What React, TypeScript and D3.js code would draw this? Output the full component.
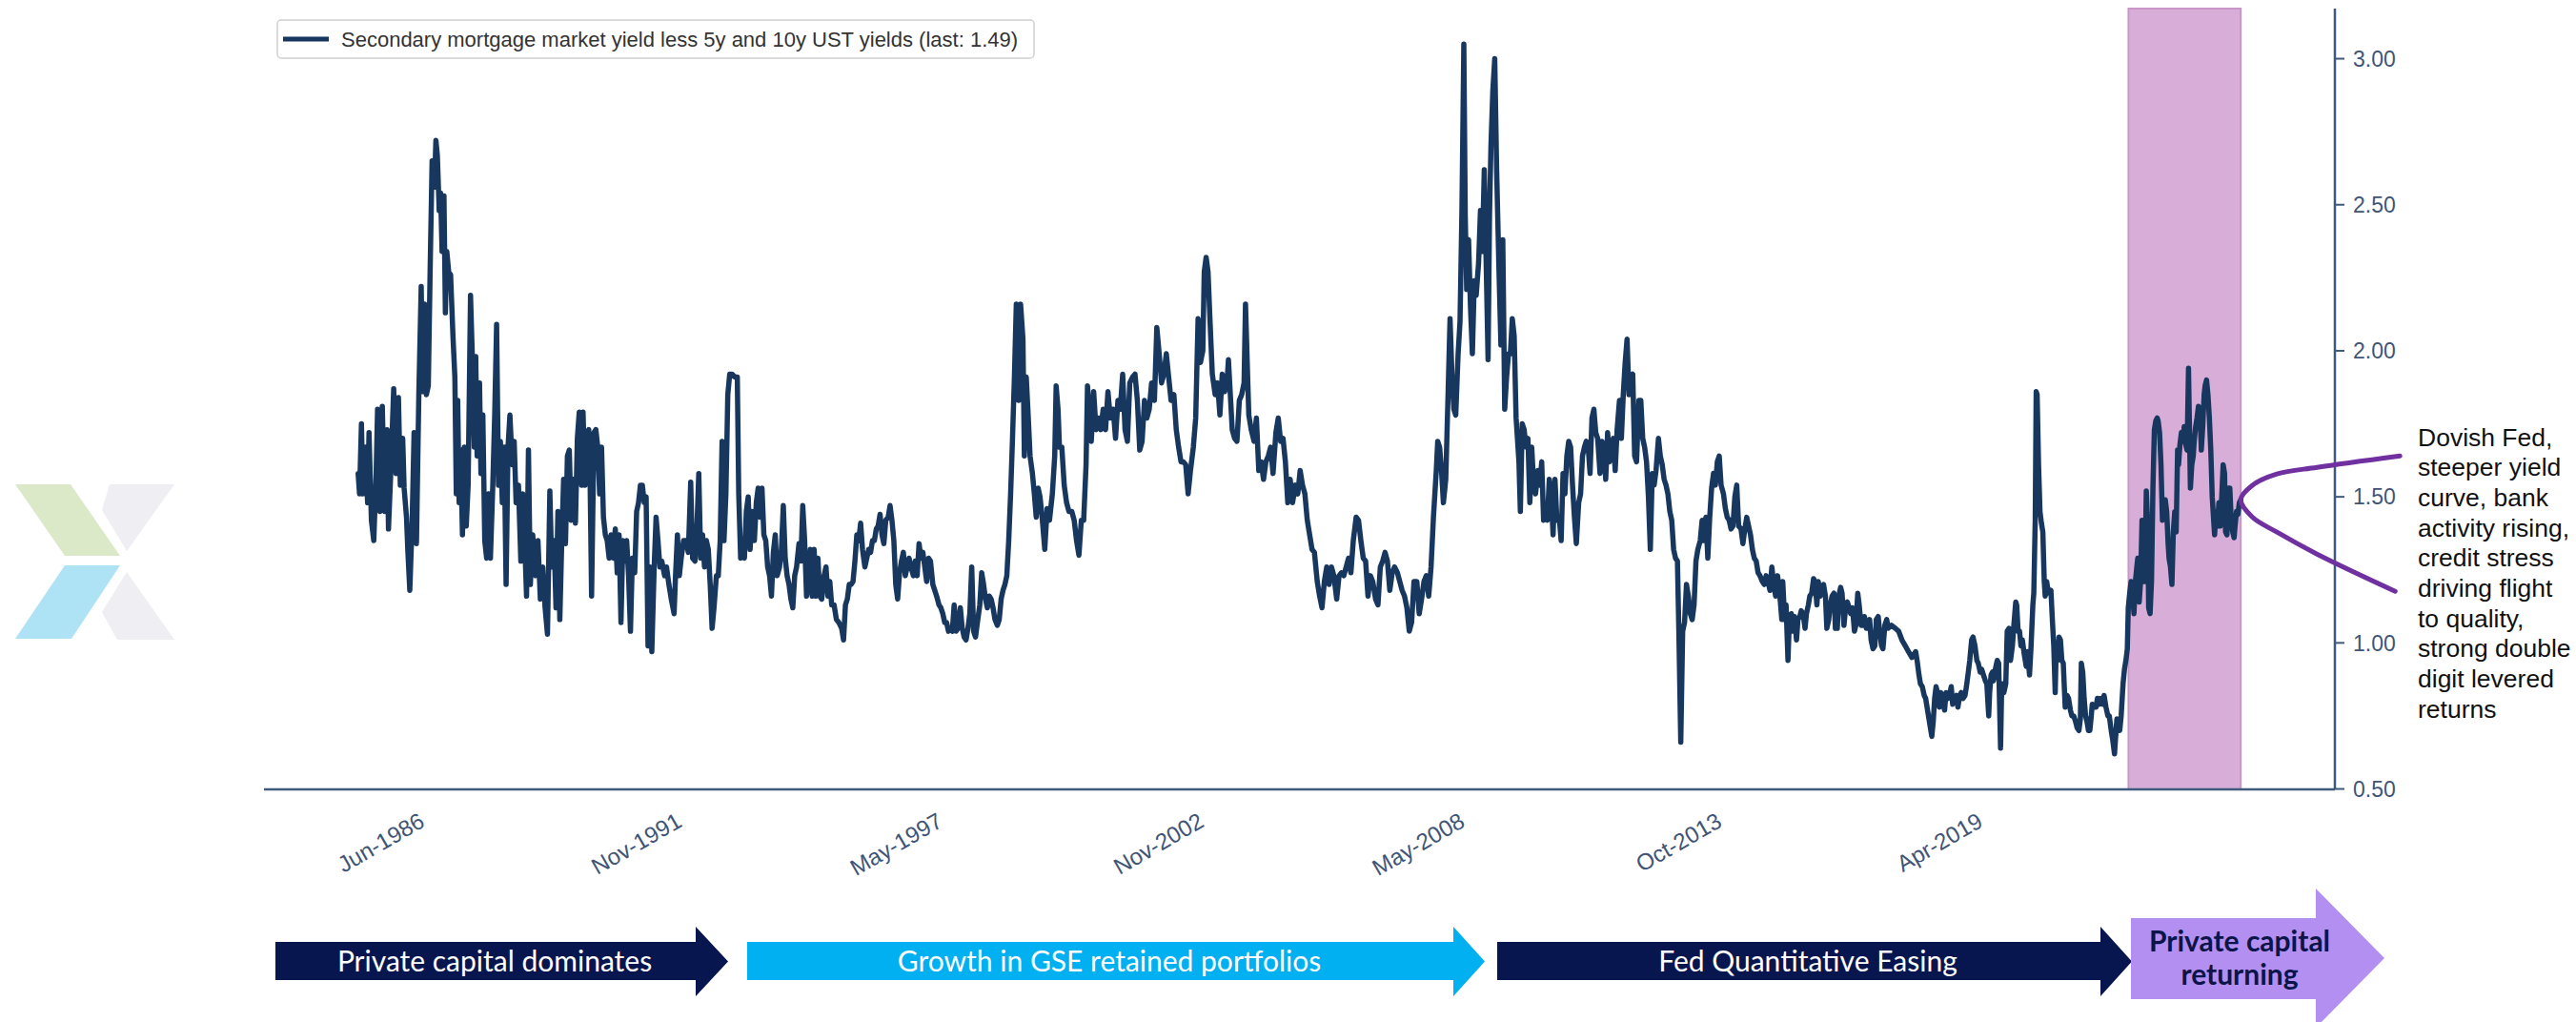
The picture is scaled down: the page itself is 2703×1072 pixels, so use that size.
import React from "react";
import * as d3 from "d3";

// ---------------- DATA (decimal year, spread in %) ----------------
const spread1985_1998: [number, number][] = [
[1984.98,1.58],[1985.01,1.51],[1985.05,1.75],[1985.08,1.51],[1985.13,1.67],[1985.18,1.48],[1985.21,1.72],[1985.26,1.42],[1985.31,1.35],[1985.36,1.58],[1985.39,1.80],[1985.44,1.45],[1985.49,1.81],[1985.54,1.45],[1985.59,1.73],[1985.62,1.39],[1985.67,1.59],[1985.73,1.87],[1985.78,1.58],[1985.83,1.84],[1985.87,1.54],[1985.92,1.70],[1985.95,1.53],[1986.00,1.43],[1986.03,1.31],[1986.07,1.18],[1986.12,1.42],[1986.16,1.72],[1986.21,1.34],[1986.26,1.85],[1986.31,2.22],[1986.34,1.86],[1986.38,2.16],[1986.42,1.85],[1986.46,1.88],[1986.50,2.29],[1986.54,2.65],[1986.59,2.56],[1986.62,2.72],[1986.65,2.67],[1986.69,2.48],[1986.72,2.54],[1986.75,2.34],[1986.79,2.53],[1986.82,2.13],[1986.85,2.34],[1986.89,2.27],[1986.93,2.26],[1986.98,2.05],[1987.02,1.91],[1987.05,1.51],[1987.08,1.83],[1987.11,1.48],[1987.14,1.66],[1987.18,1.37],[1987.22,1.67],[1987.26,1.40],[1987.30,1.54],[1987.35,2.19],[1987.39,1.97],[1987.43,1.67],[1987.46,1.98],[1987.49,1.64],[1987.54,1.89],[1987.57,1.58],[1987.61,1.78],[1987.65,1.35],[1987.69,1.29],[1987.73,1.51],[1987.77,1.29],[1987.82,1.54],[1987.86,1.78],[1987.90,2.09],[1987.94,1.54],[1987.98,1.69],[1988.02,1.48],[1988.06,1.67],[1988.10,1.20],[1988.14,1.67],[1988.18,1.78],[1988.23,1.61],[1988.27,1.69],[1988.31,1.48],[1988.36,1.54],[1988.41,1.28],[1988.45,1.51],[1988.49,1.35],[1988.53,1.16],[1988.57,1.66],[1988.61,1.20],[1988.66,1.37],[1988.72,1.23],[1988.77,1.35],[1988.82,1.15],[1988.87,1.26],[1988.92,1.12],[1988.97,1.03],[1989.02,1.52],[1989.06,1.26],[1989.11,1.35],[1989.15,1.12],[1989.19,1.45],[1989.23,1.08],[1989.27,1.34],[1989.31,1.56],[1989.35,1.34],[1989.39,1.64],[1989.43,1.66],[1989.47,1.42],[1989.52,1.56],[1989.56,1.41],[1989.60,1.70],[1989.64,1.79],[1989.69,1.54],[1989.72,1.79],[1989.76,1.54],[1989.80,1.72],[1989.84,1.73],[1989.87,1.54],[1989.90,1.16],[1989.95,1.72],[1989.99,1.73],[1990.03,1.67],[1990.07,1.51],[1990.11,1.67],[1990.15,1.43],[1990.19,1.37],[1990.23,1.35],[1990.27,1.29],[1990.31,1.37],[1990.36,1.29],[1990.40,1.39],[1990.44,1.24],[1990.48,1.37],[1990.52,1.07],[1990.56,1.35],[1990.60,1.28],[1990.64,1.35],[1990.68,1.23],[1990.72,1.04],[1990.76,1.29],[1990.81,1.24],[1990.85,1.45],[1990.89,1.48],[1990.93,1.54],[1990.97,1.54],[1991.01,1.48],[1991.05,1.50],[1991.09,0.99],[1991.13,1.26],[1991.17,0.97],[1991.22,1.26],[1991.26,1.43],[1991.30,1.35],[1991.34,1.26],[1991.38,1.28],[1991.44,1.23],[1991.48,1.26],[1991.53,1.20],[1991.58,1.15],[1991.64,1.10],[1991.67,1.23],[1991.71,1.37],[1991.75,1.23],[1991.79,1.29],[1991.84,1.35],[1991.89,1.35],[1991.94,1.31],[1991.99,1.55],[1992.03,1.29],[1992.08,1.28],[1992.12,1.39],[1992.16,1.58],[1992.20,1.29],[1992.24,1.37],[1992.28,1.26],[1992.32,1.35],[1992.36,1.32],[1992.40,1.20],[1992.44,1.05],[1992.48,1.12],[1992.53,1.23],[1992.57,1.23],[1992.61,1.35],[1992.65,1.69],[1992.69,1.35],[1992.73,1.51],[1992.77,1.85],[1992.81,1.92],[1992.86,1.92],[1992.92,1.91],[1992.97,1.91],[1993.00,1.51],[1993.04,1.29],[1993.08,1.35],[1993.12,1.29],[1993.16,1.45],[1993.20,1.50],[1993.24,1.32],[1993.28,1.45],[1993.33,1.35],[1993.37,1.48],[1993.41,1.53],[1993.45,1.43],[1993.49,1.53],[1993.53,1.37],[1993.57,1.35],[1993.61,1.26],[1993.65,1.23],[1993.69,1.16],[1993.73,1.31],[1993.77,1.37],[1993.81,1.23],[1993.86,1.26],[1993.90,1.32],[1993.94,1.47],[1993.98,1.29],[1994.02,1.23],[1994.06,1.20],[1994.10,1.15],[1994.14,1.12],[1994.18,1.23],[1994.22,1.26],[1994.27,1.34],[1994.31,1.28],[1994.35,1.47],[1994.39,1.35],[1994.43,1.16],[1994.47,1.20],[1994.51,1.32],[1994.55,1.16],[1994.59,1.32],[1994.63,1.16],[1994.67,1.29],[1994.71,1.16],[1994.75,1.15],[1994.80,1.23],[1994.84,1.26],[1994.88,1.16],[1994.92,1.21],[1994.96,1.13],[1995.01,1.13],[1995.06,1.08],[1995.11,1.07],[1995.17,1.05],[1995.21,1.01],[1995.25,1.13],[1995.29,1.15],[1995.33,1.20],[1995.37,1.20],[1995.41,1.21],[1995.45,1.28],[1995.49,1.37],[1995.53,1.35],[1995.57,1.41],[1995.61,1.32],[1995.66,1.26],[1995.70,1.29],[1995.74,1.32],[1995.78,1.31],[1995.82,1.35],[1995.86,1.35],[1995.90,1.39],[1995.94,1.40],[1995.98,1.44],[1996.02,1.37],[1996.06,1.34],[1996.10,1.42],[1996.15,1.43],[1996.19,1.47],[1996.23,1.42],[1996.27,1.35],[1996.31,1.20],[1996.35,1.15],[1996.39,1.24],[1996.43,1.28],[1996.47,1.31],[1996.51,1.23],[1996.55,1.26],[1996.59,1.29],[1996.63,1.26],[1996.68,1.23],[1996.72,1.28],[1996.76,1.23],[1996.80,1.34],[1996.84,1.29],[1996.88,1.31],[1996.92,1.26],[1996.96,1.21],[1997.00,1.29],[1997.04,1.28],[1997.09,1.20],[1997.13,1.18],[1997.17,1.16],[1997.22,1.13],[1997.26,1.12],[1997.30,1.10],[1997.34,1.07],[1997.38,1.07],[1997.42,1.04],[1997.46,1.05],[1997.50,1.04],[1997.54,1.13],[1997.58,1.04],[1997.62,1.05],[1997.67,1.12],[1997.71,1.05],[1997.75,1.02],[1997.79,1.01],[1997.83,1.05],[1997.87,1.10],[1997.91,1.26],[1997.95,1.04],[1997.99,1.02],[1998.03,1.07],[1998.08,1.13],[1998.12,1.24],[1998.16,1.20],[1998.20,1.15],[1998.24,1.12],[1998.28,1.16],[1998.32,1.15],[1998.36,1.12],[1998.40,1.08],[1998.45,1.06],[1998.49,1.08],[1998.53,1.15],[1998.57,1.18],[1998.61,1.20],[1998.65,1.23],[1998.69,1.35],[1998.73,1.51],[1998.77,1.70],[1998.81,1.91],[1998.85,2.16],[1998.90,1.83]
];

const spread1999_2014: [number, number][] = [
[1998.94,2.16],[1998.99,2.04],[1999.02,1.64],[1999.06,1.91],[1999.10,1.78],[1999.14,1.64],[1999.19,1.58],[1999.23,1.51],[1999.27,1.43],[1999.31,1.53],[1999.35,1.50],[1999.40,1.42],[1999.45,1.32],[1999.50,1.46],[1999.55,1.42],[1999.61,1.51],[1999.66,1.64],[1999.69,1.88],[1999.73,1.80],[1999.76,1.67],[1999.81,1.67],[1999.86,1.54],[1999.91,1.48],[1999.96,1.45],[2000.02,1.45],[2000.07,1.42],[2000.12,1.35],[2000.17,1.30],[2000.22,1.42],[2000.27,1.42],[2000.32,1.61],[2000.35,1.88],[2000.39,1.80],[2000.43,1.69],[2000.48,1.86],[2000.53,1.73],[2000.58,1.77],[2000.63,1.73],[2000.68,1.80],[2000.73,1.73],[2000.78,1.86],[2000.83,1.77],[2000.89,1.80],[2000.94,1.70],[2000.99,1.83],[2001.04,1.80],[2001.09,1.92],[2001.14,1.73],[2001.19,1.69],[2001.24,1.89],[2001.30,1.91],[2001.35,1.92],[2001.40,1.83],[2001.45,1.66],[2001.50,1.69],[2001.55,1.83],[2001.60,1.77],[2001.65,1.80],[2001.70,1.89],[2001.76,1.83],[2001.81,2.08],[2001.86,1.99],[2001.91,1.89],[2001.96,1.92],[2002.01,1.99],[2002.06,1.91],[2002.11,1.83],[2002.17,1.85],[2002.22,1.73],[2002.27,1.67],[2002.32,1.62],[2002.37,1.62],[2002.42,1.61],[2002.47,1.51],[2002.52,1.59],[2002.58,1.67],[2002.63,1.77],[2002.68,2.11],[2002.73,1.96],[2002.78,2.00],[2002.81,2.27],[2002.85,2.32],[2002.89,2.27],[2002.93,2.11],[2002.98,1.92],[2003.04,1.85],[2003.09,1.89],[2003.14,1.78],[2003.19,1.92],[2003.24,1.86],[2003.29,1.89],[2003.32,1.97],[2003.36,1.85],[2003.40,1.73],[2003.45,1.70],[2003.50,1.69],[2003.55,1.83],[2003.60,1.85],[2003.65,1.89],[2003.68,2.16],[2003.72,1.94],[2003.75,1.78],[2003.80,1.73],[2003.86,1.69],[2003.91,1.77],[2003.96,1.59],[2004.01,1.62],[2004.06,1.56],[2004.11,1.62],[2004.16,1.64],[2004.21,1.67],[2004.26,1.58],[2004.32,1.72],[2004.37,1.77],[2004.42,1.69],[2004.47,1.70],[2004.52,1.62],[2004.57,1.48],[2004.62,1.56],[2004.67,1.48],[2004.73,1.54],[2004.78,1.51],[2004.83,1.59],[2004.88,1.54],[2004.93,1.51],[2004.98,1.42],[2005.03,1.37],[2005.08,1.32],[2005.13,1.31],[2005.19,1.21],[2005.24,1.16],[2005.29,1.12],[2005.34,1.21],[2005.39,1.26],[2005.44,1.20],[2005.49,1.26],[2005.54,1.23],[2005.60,1.15],[2005.65,1.23],[2005.70,1.24],[2005.75,1.23],[2005.80,1.26],[2005.85,1.29],[2005.90,1.24],[2005.95,1.35],[2006.01,1.43],[2006.06,1.42],[2006.11,1.35],[2006.16,1.29],[2006.21,1.28],[2006.26,1.16],[2006.31,1.23],[2006.36,1.21],[2006.42,1.15],[2006.47,1.13],[2006.52,1.26],[2006.57,1.28],[2006.62,1.31],[2006.67,1.28],[2006.72,1.18],[2006.77,1.24],[2006.82,1.26],[2006.88,1.24],[2006.93,1.21],[2006.98,1.18],[2007.03,1.16],[2007.08,1.12],[2007.13,1.04],[2007.18,1.07],[2007.23,1.21],[2007.29,1.21],[2007.34,1.10],[2007.39,1.15],[2007.44,1.21],[2007.49,1.23],[2007.54,1.16],[2007.59,1.26],[2007.64,1.43],[2007.70,1.59],[2007.73,1.69],[2007.77,1.67],[2007.81,1.59],[2007.85,1.48],[2007.90,1.56],[2007.95,1.86],[2007.99,2.11],[2008.03,1.92],[2008.07,1.80],[2008.11,1.78],[2008.16,1.99],[2008.20,2.10],[2008.24,2.48],[2008.28,3.05],[2008.31,2.46],[2008.34,2.21],[2008.38,2.38],[2008.42,2.15],[2008.46,1.99],[2008.50,2.24],[2008.54,2.19],[2008.59,2.30],[2008.63,2.48],[2008.67,2.34],[2008.71,2.62],[2008.75,2.30],[2008.79,1.97],[2008.82,2.46],[2008.85,2.70],[2008.89,2.89],[2008.93,3.00],[2008.97,2.62],[2009.02,2.27],[2009.06,2.02],[2009.10,2.38],[2009.14,1.80],[2009.18,1.91],[2009.22,1.99],[2009.26,1.99],[2009.30,2.11],[2009.34,2.05],[2009.38,1.77],[2009.44,1.62],[2009.47,1.45],[2009.51,1.75],[2009.55,1.73],[2009.59,1.67],[2009.63,1.70],[2009.67,1.48],[2009.71,1.67],[2009.75,1.54],[2009.79,1.51],[2009.84,1.59],[2009.88,1.54],[2009.92,1.62],[2009.96,1.42],[2010.00,1.46],[2010.04,1.42],[2010.08,1.56],[2010.12,1.51],[2010.16,1.37],[2010.20,1.56],[2010.24,1.42],[2010.29,1.43],[2010.33,1.35],[2010.37,1.58],[2010.41,1.51],[2010.45,1.64],[2010.49,1.69],[2010.53,1.67],[2010.57,1.54],[2010.61,1.43],[2010.65,1.34],[2010.70,1.48],[2010.74,1.51],[2010.78,1.64],[2010.82,1.67],[2010.86,1.69],[2010.90,1.67],[2010.94,1.58],[2010.98,1.77],[2011.02,1.80],[2011.06,1.72],[2011.10,1.70],[2011.15,1.58],[2011.19,1.69],[2011.23,1.67],[2011.27,1.56],[2011.31,1.72],[2011.35,1.62],[2011.39,1.67],[2011.43,1.70],[2011.47,1.59],[2011.51,1.73],[2011.56,1.83],[2011.60,1.70],[2011.64,1.85],[2011.68,1.96],[2011.72,2.04],[2011.76,1.85],[2011.80,1.91],[2011.84,1.92],[2011.88,1.64],[2011.92,1.62],[2011.97,1.83],[2012.01,1.83],[2012.05,1.70],[2012.09,1.67],[2012.13,1.62],[2012.17,1.50],[2012.21,1.32],[2012.25,1.58],[2012.29,1.54],[2012.33,1.59],[2012.38,1.70],[2012.42,1.64],[2012.46,1.61],[2012.50,1.56],[2012.54,1.54],[2012.58,1.51],[2012.62,1.45],[2012.66,1.42],[2012.70,1.32],[2012.74,1.29],[2012.78,1.28],[2012.81,1.04],[2012.85,0.66],[2012.89,1.04],[2012.93,1.07],[2012.97,1.20],[2013.01,1.16],[2013.05,1.10],[2013.09,1.08],[2013.13,1.13],[2013.17,1.28],[2013.21,1.32],[2013.26,1.35],[2013.30,1.42],[2013.34,1.35],[2013.38,1.43],[2013.42,1.29],[2013.46,1.43],[2013.50,1.53],[2013.54,1.58],[2013.58,1.54],[2013.62,1.62],[2013.66,1.64],[2013.70,1.54],[2013.75,1.51],[2013.79,1.46],[2013.83,1.43],[2013.87,1.42],[2013.91,1.39],[2013.95,1.40],[2013.99,1.50],[2014.03,1.54],[2014.07,1.40],[2014.12,1.39],[2014.16,1.34],[2014.20,1.39],[2014.24,1.43],[2014.28,1.40],[2014.32,1.37],[2014.36,1.32],[2014.40,1.29],[2014.44,1.28],[2014.48,1.24],[2014.52,1.23],[2014.57,1.21],[2014.61,1.20],[2014.65,1.23],[2014.69,1.21],[2014.73,1.18],[2014.77,1.26],[2014.81,1.20],[2014.85,1.16],[2014.89,1.23],[2014.93,1.18],[2014.98,1.08]
];

const spread2015_2024: [number, number][] = [
[2015.00,1.21],[2015.04,1.08],[2015.07,1.13],[2015.11,0.94],[2015.14,1.08],[2015.18,1.10],[2015.22,1.04],[2015.25,1.09],[2015.29,1.01],[2015.32,1.08],[2015.36,1.09],[2015.39,1.11],[2015.43,1.10],[2015.47,1.05],[2015.50,1.10],[2015.54,1.13],[2015.57,1.16],[2015.61,1.17],[2015.65,1.22],[2015.68,1.21],[2015.72,1.13],[2015.75,1.21],[2015.79,1.16],[2015.82,1.18],[2015.86,1.20],[2015.90,1.16],[2015.93,1.05],[2015.97,1.08],[2016.00,1.13],[2016.04,1.16],[2016.08,1.17],[2016.11,1.05],[2016.15,1.05],[2016.18,1.16],[2016.22,1.19],[2016.25,1.17],[2016.29,1.06],[2016.33,1.13],[2016.36,1.14],[2016.40,1.12],[2016.43,1.10],[2016.47,1.12],[2016.51,1.04],[2016.54,1.06],[2016.58,1.17],[2016.61,1.13],[2016.65,1.06],[2016.68,1.06],[2016.72,1.09],[2016.76,1.05],[2016.79,1.05],[2016.83,1.08],[2016.86,1.01],[2016.90,0.98],[2016.94,0.99],[2016.97,1.08],[2017.01,1.09],[2017.04,1.04],[2017.08,0.99],[2017.11,0.98],[2017.15,1.06],[2017.19,1.08],[2017.22,1.05],[2017.29,1.06],[2017.37,1.05],[2017.44,1.04],[2017.51,1.01],[2017.58,0.99],[2017.65,0.97],[2017.72,0.95],[2017.80,0.97],[2017.83,0.94],[2017.87,0.89],[2017.90,0.86],[2017.94,0.85],[2017.98,0.82],[2018.01,0.81],[2018.05,0.77],[2018.08,0.74],[2018.12,0.70],[2018.14,0.68],[2018.17,0.73],[2018.20,0.81],[2018.23,0.85],[2018.26,0.83],[2018.30,0.78],[2018.33,0.83],[2018.37,0.80],[2018.41,0.77],[2018.44,0.83],[2018.48,0.81],[2018.51,0.82],[2018.55,0.85],[2018.58,0.79],[2018.62,0.81],[2018.66,0.82],[2018.69,0.78],[2018.73,0.82],[2018.76,0.83],[2018.80,0.81],[2018.84,0.82],[2018.87,0.85],[2018.91,0.90],[2018.94,0.94],[2018.98,1.01],[2019.01,1.02],[2019.05,0.99],[2019.09,0.94],[2019.12,0.93],[2019.16,0.90],[2019.19,0.91],[2019.23,0.89],[2019.27,0.87],[2019.30,0.86],[2019.34,0.75],[2019.36,0.83],[2019.39,0.89],[2019.42,0.90],[2019.44,0.87],[2019.48,0.91],[2019.52,0.94],[2019.55,0.93],[2019.59,0.64],[2019.61,0.82],[2019.63,0.86],[2019.66,0.83],[2019.70,0.86],[2019.73,1.04],[2019.77,1.05],[2019.80,0.94],[2019.84,0.99],[2019.87,1.06],[2019.91,1.14],[2019.93,1.13],[2019.96,1.04],[2019.99,1.04],[2020.02,0.99],[2020.05,1.01],[2020.09,0.96],[2020.13,0.92],[2020.16,0.97],[2020.20,0.89],[2020.23,0.98],[2020.27,1.13],[2020.29,1.17],[2020.32,1.42],[2020.34,1.86],[2020.36,1.85],[2020.39,1.61],[2020.42,1.45],[2020.45,1.41],[2020.48,1.38],[2020.51,1.21],[2020.53,1.16],[2020.56,1.21],[2020.59,1.18],[2020.62,1.17],[2020.65,1.18],[2020.68,1.08],[2020.71,0.99],[2020.74,0.83],[2020.76,0.97],[2020.79,0.94],[2020.82,1.02],[2020.85,1.01],[2020.88,0.94],[2020.91,0.93],[2020.95,0.78],[2020.99,0.82],[2021.02,0.81],[2021.06,0.77],[2021.09,0.75],[2021.13,0.75],[2021.17,0.73],[2021.20,0.71],[2021.24,0.70],[2021.27,0.74],[2021.29,0.93],[2021.32,0.90],[2021.35,0.81],[2021.38,0.75],[2021.41,0.73],[2021.44,0.70],[2021.47,0.70],[2021.50,0.75],[2021.52,0.79],[2021.56,0.78],[2021.60,0.78],[2021.63,0.81],[2021.67,0.79],[2021.70,0.81],[2021.74,0.79],[2021.77,0.82],[2021.81,0.78],[2021.85,0.75],[2021.88,0.75],[2021.92,0.70],[2021.95,0.67],[2021.99,0.62],[2022.01,0.67],[2022.04,0.74],[2022.07,0.70],[2022.10,0.70],[2022.13,0.75],[2022.17,0.86],[2022.20,0.91],[2022.23,0.94],[2022.26,0.98],[2022.28,1.12],[2022.31,1.17],[2022.34,1.21],[2022.37,1.17],[2022.40,1.10],[2022.43,1.21],[2022.46,1.26],[2022.48,1.29],[2022.51,1.14],[2022.54,1.21],[2022.57,1.42],[2022.60,1.28],[2022.63,1.21],[2022.66,1.52],[2022.69,1.40],[2022.71,1.12],[2022.74,1.10],[2022.77,1.21],[2022.80,1.53],[2022.83,1.73],[2022.86,1.76],[2022.89,1.77],[2022.91,1.76],[2022.94,1.72],[2022.97,1.61],[2023.00,1.42],[2023.03,1.46],[2023.06,1.49],[2023.09,1.45],[2023.12,1.34],[2023.14,1.29],[2023.17,1.26],[2023.20,1.20],[2023.23,1.38],[2023.26,1.45],[2023.29,1.38],[2023.32,1.66],[2023.34,1.61],[2023.37,1.68],[2023.40,1.72],[2023.43,1.69],[2023.46,1.74],[2023.49,1.68],[2023.52,1.66],[2023.55,1.94],[2023.57,1.74],[2023.59,1.53],[2023.62,1.61],[2023.65,1.64],[2023.67,1.69],[2023.70,1.74],[2023.73,1.77],[2023.76,1.81],[2023.79,1.80],[2023.82,1.66],[2023.85,1.74],[2023.88,1.85],[2023.90,1.88],[2023.93,1.90],[2023.96,1.85],[2023.99,1.77],[2024.02,1.66],[2024.05,1.50],[2024.08,1.42],[2024.10,1.37],[2024.13,1.45],[2024.16,1.40],[2024.19,1.48],[2024.22,1.40],[2024.25,1.50],[2024.28,1.61],[2024.31,1.58],[2024.33,1.38],[2024.36,1.37],[2024.39,1.53],[2024.42,1.53],[2024.45,1.42],[2024.48,1.38],[2024.51,1.36],[2024.53,1.40],[2024.56,1.45],[2024.59,1.44],[2024.62,1.48],[2024.65,1.49]
];

const xTickLabels = ["Jun-1986", "Nov-1991", "May-1997", "Nov-2002", "May-2008", "Oct-2013", "Apr-2019"];
const xTickDates = ["1986-06-01", "1991-11-01", "1997-05-01", "2002-11-01", "2008-05-01", "2013-10-01", "2019-04-01"];
const yTickValues = [0.5, 1.0, 1.5, 2.0, 2.5, 3.0];
const bandStartDate = "2022-04-15";
const legendLabel = "Secondary mortgage market yield less 5y and 10y UST yields (last: 1.49)";
const annotationLines = [
  "Dovish Fed,", "steeper yield", "curve, bank", "activity rising,", "credit stress",
  "driving flight", "to quality,", "strong double", "digit levered", "returns",
];
const phaseLabels = [
  ["Private capital dominates"],
  ["Growth in GSE retained portfolios"],
  ["Fed Quantitative Easing"],
  ["Private capital", "returning"],
];

// ---------------- LAYOUT / STYLE ----------------
const W = 2703, H = 1072;
const PLOT = { left: 277, right: 2450, top: 9, bottom: 828 };
const LINE_COLOR = "#17375e";
const AXIS_COLOR = "#3e5a7d";
const TICK_TEXT = "#3f5577";
const FONT = '"Liberation Sans", Arial, Helvetica, sans-serif';
const ARROW_FONT = 'Lato, "Liberation Sans", sans-serif';

const arrowLayout = [
  { x0: 289, x1: 730, tip: 764, bt: 988, bb: 1028, ht: 972, hb: 1045, fill: "#08164f", text: "#ffffff", bold: false, cx: 519 },
  { x0: 784, x1: 1525, tip: 1558, bt: 988, bb: 1028, ht: 972, hb: 1045, fill: "#00b0f0", text: "#ffffff", bold: false, cx: 1164 },
  { x0: 1571, x1: 2204, tip: 2237, bt: 988, bb: 1028, ht: 972, hb: 1045, fill: "#08164f", text: "#ffffff", bold: false, cx: 1897 },
  { x0: 2236, x1: 2430, tip: 2502, bt: 963, bb: 1048, ht: 932, hb: 1078, fill: "#b38ff1", text: "#0b1549", bold: true, cx: 2350 },
];

function yearToDate(y: number): Date {
  const yr = Math.floor(y);
  const s = Date.UTC(yr, 0, 1), e = Date.UTC(yr + 1, 0, 1);
  return new Date(s + (y - yr) * (e - s));
}

type Pt = { date: Date; v: number };

export default function App() {
  const data: Pt[] = [...spread1985_1998, ...spread1999_2014, ...spread2015_2024].map(([t, v]) => ({ date: yearToDate(t), v }));
  const [t0, t1] = d3.extent(data, (d) => d.date) as [Date, Date];
  const span = +t1 - +t0;
  const x = d3.scaleUtc()
    .domain([new Date(+t0 - 0.05 * span), new Date(+t1 + 0.05 * span)])
    .range([PLOT.left, PLOT.right]);
  const [vmin, vmax] = d3.extent(data, (d) => d.v) as [number, number];
  const vr = vmax - vmin;
  const y = d3.scaleLinear().domain([vmin - 0.05 * vr, vmax + 0.05 * vr]).range([PLOT.bottom, PLOT.top]);

  const linePath = d3.line<Pt>().x((d) => x(d.date)).y((d) => y(d.v))(data) || "";

  const last = data[data.length - 1];
  const vx = x(last.date), vy = y(last.v);
  const bracketPts: [number, number][] = [
    [vx + 167, vy - 46], [vx + 80, vy - 34], [vx + 38, vy - 27], [vx + 12, vy - 15], [vx, vy],
    [vx + 12, vy + 18], [vx + 38, vy + 34], [vx + 80, vy + 57], [vx + 162, vy + 96],
  ];
  const bracketPath = d3.line().curve(d3.curveCatmullRom.alpha(0.5))(bracketPts) || "";

  const bandX0 = x(new Date(bandStartDate));
  const bandX1 = x(last.date);

  const arrowPoints = (a: typeof arrowLayout[0]) => {
    const cy = (a.ht + a.hb) / 2;
    return [
      [a.x0, a.bt], [a.x1, a.bt], [a.x1, a.ht], [a.tip, cy], [a.x1, a.hb], [a.x1, a.bb], [a.x0, a.bb],
    ].map((p) => p.join(",")).join(" ");
  };

  return (
    <svg width={W} height={H} viewBox={`0 0 ${W} ${H}`}
      style={{ position: "absolute", left: 0, top: 0, background: "#ffffff" }}>
      <rect x={0} y={0} width={W} height={H} fill="#ffffff" />

      {/* logo */}
      <g>
        <polygon points="16,508 74,508 126,583 68,583" fill="#dbe9c9" />
        <polygon points="115,508 183,508 133,578 107,535" fill="#eeeef3" />
        <polygon points="68,593 126,593 75,670 16,670" fill="#aee2f5" />
        <polygon points="133,600 183,671 123,671 107,642" fill="#eeeef3" />
      </g>

      {/* shaded band */}
      <rect x={bandX0} y={PLOT.top} width={bandX1 - bandX0} height={PLOT.bottom - PLOT.top}
        fill="#d8aed8" stroke="#c897c8" strokeWidth={2} />

      {/* series */}
      <path d={linePath} fill="none" stroke={LINE_COLOR} strokeWidth={5.5} strokeLinejoin="round" strokeLinecap="round" />

      {/* axes */}
      <line x1={PLOT.left} x2={PLOT.right} y1={PLOT.bottom} y2={PLOT.bottom} stroke={AXIS_COLOR} strokeWidth={2.5} />
      <line x1={PLOT.right} x2={PLOT.right} y1={PLOT.top} y2={PLOT.bottom} stroke={AXIS_COLOR} strokeWidth={2.5} />
      {yTickValues.map((v) => (
        <g key={v}>
          <line x1={PLOT.right} x2={PLOT.right + 10} y1={y(v)} y2={y(v)} stroke={AXIS_COLOR} strokeWidth={2} />
          <text x={PLOT.right + 19} y={y(v)} dy="0.36em" fontFamily={FONT} fontSize={23} fill={TICK_TEXT}>
            {v.toFixed(2)}
          </text>
        </g>
      ))}
      {xTickDates.map((ds, i) => {
        const tx = x(new Date(ds));
        const ty = PLOT.bottom + 38;
        return (
          <text key={ds} x={tx} y={ty} textAnchor="end" transform={`rotate(-30, ${tx}, ${ty})`}
            fontFamily={FONT} fontSize={24} fill={TICK_TEXT}>
            {xTickLabels[i]}
          </text>
        );
      })}

      {/* legend */}
      <rect x={291} y={21} width={794} height={40} rx={4} fill="#ffffff" stroke="#cfcfcf" strokeWidth={1.5} />
      <line x1={297} x2={345} y1={41} y2={41} stroke={LINE_COLOR} strokeWidth={5} />
      <text x={358} y={41} dy="0.36em" fontFamily={FONT} fontSize={22} fill="#333333">{legendLabel}</text>

      {/* annotation */}
      <path d={bracketPath} fill="none" stroke="#7030a0" strokeWidth={5} strokeLinecap="round" />
      <text fontFamily={FONT} fontSize={26.5} fill="#111111">
        {annotationLines.map((l, i) => (
          <tspan key={i} x={2537} y={458 + i * 31.7} dy="0.36em">{l}</tspan>
        ))}
      </text>

      {/* phase arrows */}
      {arrowLayout.map((a, i) => {
        const cy = (a.ht + a.hb) / 2;
        const lines = phaseLabels[i];
        return (
          <g key={i}>
            <polygon points={arrowPoints(a)} fill={a.fill} />
            {lines.map((l, j) => (
              <text key={j} x={a.cx} y={cy + (j - (lines.length - 1) / 2) * 35} dy="0.36em"
                textAnchor="middle" fontFamily={ARROW_FONT} fontSize={30}
                fontWeight={a.bold ? 700 : 400} fill={a.text}>
                {l}
              </text>
            ))}
          </g>
        );
      })}
    </svg>
  );
}
